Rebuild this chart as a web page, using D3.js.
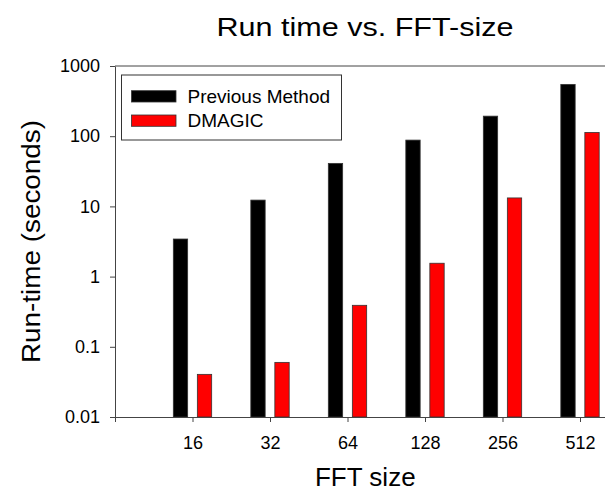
<!DOCTYPE html>
<html>
<head>
<meta charset="utf-8">
<script src="https://cdn.jsdelivr.net/npm/d3@7/dist/d3.min.js"></script>
<style>
	body { margin: 0; background: #fff; }
	svg { display: block; font-family: "Liberation Sans", Arial, sans-serif; }
</style>
</head>
<body>
<div id="chart"></div>
<script>

// Chart values
var fftSizes = ["16", "32", "64", "128", "256", "512"];
var previousMethod = [3.43, 12.3, 41, 88, 193, 547];
var dmagic = [0.0405, 0.06, 0.39, 1.55, 13.2, 113];
var yTicks = [0.01, 0.1, 1, 10, 100, 1000];
var seriesNames = ["Previous Method", "DMAGIC"];
var seriesColors = ["#000000", "#ff0000"];

var width = 605,
	height = 492;

var svg = d3.select("#chart").append("svg")
	.attr("width", width)
	.attr("height", height);

// x is a plain linear scale: category i sits at i+1, the right side runs past the edge
var x = d3.scaleLinear().domain([0, 7]).range([115, 115 + 77.5 * 7]);
var y = d3.scaleLog().domain([0.01, 1000]).range([417, 66]);

var barW = 0.185,
	offset = 0.155;

// Frame line along the top
svg.append("line")
	.attr("x1", x(0)).attr("x2", x(7))
	.attr("y1", y(1000)).attr("y2", y(1000))
	.attr("stroke", "#444").attr("stroke-width", 1);

// Bars, one group per series
var series = [previousMethod, dmagic];
series.forEach(function(values, s) {
	var shift = s == 0 ? -offset : offset;
	svg.append("g").selectAll("rect")
		.data(values)
		.enter().append("rect")
		.attr("x", function(d, i) { return x(i + 1 + shift - barW / 2); })
		.attr("width", function() { return x(barW) - x(0); })
		.attr("y", function(d) { return y(d); })
		.attr("height", function(d) { return y(0.01) - y(d); })
		.attr("fill", seriesColors[s])
		.attr("stroke", "#333")
		.attr("stroke-width", 0.8);
});

// Axes
var yAxis = d3.axisLeft(y)
	.tickValues(yTicks)
	.tickFormat(d3.format("~g"))
	.tickSize(5)
	.tickSizeOuter(0)
	.tickPadding(10);

var xAxis = d3.axisBottom(x)
	.tickValues([0, 1, 2, 3, 4, 5, 6])
	.tickFormat(function(d) { return d == 0 ? "" : fftSizes[d - 1]; })
	.tickSize(5)
	.tickSizeOuter(0)
	.tickPadding(14.5);

var gy = svg.append("g")
	.attr("transform", "translate(" + x(0) + ",0)")
	.call(yAxis);

var gx = svg.append("g")
	.attr("transform", "translate(0," + y(0.01) + ")")
	.call(xAxis);

[gx, gy].forEach(function(g) {
	g.select(".domain").attr("stroke", "#444");
	g.selectAll(".tick line").attr("stroke", "#444");
	g.selectAll(".tick text")
		.attr("fill", "#000")
		.style("font-size", "18px")
		.style("font-family", "'Liberation Sans', Arial, sans-serif");
});

// Titles
svg.append("text")
	.attr("x", 365).attr("y", 35.7)
	.attr("text-anchor", "middle")
	.attr("textLength", 297)
	.attr("lengthAdjust", "spacingAndGlyphs")
	.style("font-size", "26px")
	.text("Run time vs. FFT-size");

svg.append("text")
	.attr("x", 365.3).attr("y", 486)
	.attr("text-anchor", "middle")
	.style("font-size", "26px")
	.text("FFT size");

svg.append("text")
	.attr("transform", "translate(40,241.5) rotate(-90)")
	.attr("text-anchor", "middle")
	.attr("textLength", 243)
	.attr("lengthAdjust", "spacingAndGlyphs")
	.style("font-size", "26px")
	.text("Run-time (seconds)");

// Legend
var legend = svg.append("g").attr("transform", "translate(121.5,75)");

legend.append("rect")
	.attr("width", 220).attr("height", 65)
	.attr("fill", "#fff")
	.attr("stroke", "#333").attr("stroke-width", 1);

seriesNames.forEach(function(name, i) {
	legend.append("rect")
		.attr("x", 10).attr("y", 15.7 + i * 24.3)
		.attr("width", 44.5).attr("height", 11.3)
		.attr("fill", seriesColors[i])
		.attr("stroke", "#333").attr("stroke-width", 0.8);

	legend.append("text")
		.attr("x", 66).attr("y", 28.2 + i * 23.7)
		.style("font-size", "19px")
		.text(name);
});

</script>
</body>
</html>
